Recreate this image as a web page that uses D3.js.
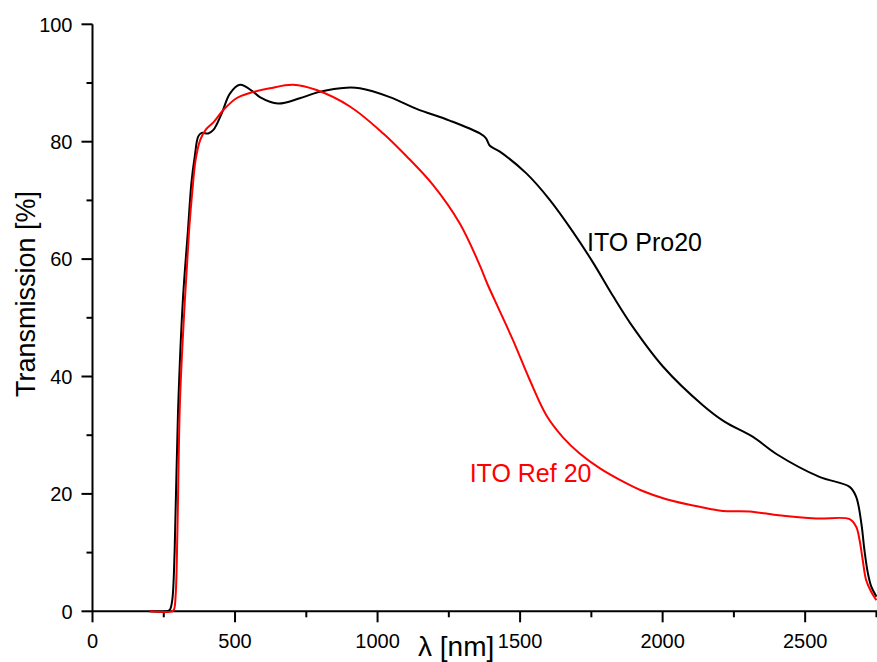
<!DOCTYPE html>
<html>
<head>
<meta charset="utf-8">
<script src="https://cdn.jsdelivr.net/npm/d3@7"></script>
<style>
  html, body { margin: 0; padding: 0; background: #fff; }
  svg { display: block; font-family: "Liberation Sans", Arial, sans-serif; }
</style>
</head>
<body>
<svg id="chart" width="877" height="662"></svg>
<script>
// Data (wavelength in nm, transmission in %)
const proWavelength = [200, 262, 272, 280, 288, 300, 317, 335, 347, 359, 371, 383, 406, 424, 453, 482, 517, 564, 587, 651, 727, 798, 891, 938, 1043, 1137, 1253, 1359, 1380, 1394, 1429, 1522, 1604, 1686, 1756, 1826, 1896, 2001, 2141, 2217, 2317, 2399, 2550, 2656, 2679, 2697, 2708, 2720, 2732, 2750];
const proTransmission = [0, 0, 0.3, 2, 10, 34, 53, 65, 73, 77.6, 80.9, 81.5, 81.4, 82.0, 84.8, 88.2, 89.7, 88.5, 87.6, 86.5, 87.4, 88.5, 89.2, 89.1, 87.6, 85.6, 83.6, 81.4, 80.6, 79.3, 78.3, 74.6, 70.1, 64.6, 59.4, 53.7, 48.4, 41.7, 35.1, 32.3, 29.7, 26.8, 22.9, 21.2, 19.5, 15.0, 10.4, 6.5, 4.2, 2.5];

const refWavelength = [200, 280, 286, 292, 298, 307, 324, 339, 350, 362, 378, 398, 424, 459, 505, 552, 622, 704, 786, 903, 1020, 1100, 1195, 1288, 1359, 1385, 1411, 1475, 1534, 1592, 1651, 1709, 1779, 1850, 1930, 2013, 2130, 2211, 2305, 2399, 2539, 2656, 2679, 2691, 2702, 2714, 2732, 2750];
const refTransmission = [0, 0, 0.3, 3, 14, 36, 53, 65, 71.5, 77, 80.3, 82.1, 83.3, 85.4, 87.4, 88.3, 89.1, 89.7, 88.8, 86.0, 81.4, 77.6, 72.6, 66.1, 58.9, 55.8, 53.0, 46.2, 39.4, 33.4, 29.6, 26.9, 24.4, 22.4, 20.5, 19.1, 17.8, 17.1, 17.0, 16.4, 15.8, 15.7, 14.4, 12.1, 8.7, 5.3, 3.3, 1.9];

const xTickValues = [0, 500, 1000, 1500, 2000, 2500];
const xMinorTicks = [250, 750, 1250, 1750, 2250, 2750];
const yTickValues = [0, 20, 40, 60, 80, 100];
const yMinorTicks = [10, 30, 50, 70, 90];

const seriesNames = ["ITO Pro20", "ITO Ref 20"];
const seriesColors = ["#000000", "#ff0000"];

const svg = d3.select("#chart");

const x = d3.scaleLinear().domain([0, 2752]).range([92.5, 877]);
const y = d3.scaleLinear().domain([0, 100]).range([611.3, 24.3]);

const axisColor = "#000";

// Y axis
const yAxis = svg.append("g").attr("transform", `translate(${x(0)},0)`);
yAxis.append("line")
  .attr("x1", 0).attr("x2", 0)
  .attr("y1", y(100)).attr("y2", y(0))
  .attr("stroke", axisColor).attr("stroke-width", 2);
yAxis.selectAll(".ymaj").data(yTickValues).enter().append("line")
  .attr("x1", -11).attr("x2", 0)
  .attr("y1", d => y(d)).attr("y2", d => y(d))
  .attr("stroke", axisColor).attr("stroke-width", 2);
yAxis.selectAll(".ymin").data(yMinorTicks).enter().append("line")
  .attr("x1", -6).attr("x2", 0)
  .attr("y1", d => y(d)).attr("y2", d => y(d))
  .attr("stroke", axisColor).attr("stroke-width", 2);
yAxis.selectAll(".ylab").data(yTickValues).enter().append("text")
  .attr("x", -20).attr("y", d => y(d))
  .attr("dy", "0.36em")
  .attr("text-anchor", "end")
  .attr("font-size", 20)
  .attr("fill", "#000")
  .text(d => d);

// X axis
const xAxis = svg.append("g").attr("transform", `translate(0,${y(0)})`);
xAxis.append("line")
  .attr("x1", x(0)).attr("x2", 877)
  .attr("y1", 0).attr("y2", 0)
  .attr("stroke", axisColor).attr("stroke-width", 2);
xAxis.selectAll(".xmaj").data(xTickValues).enter().append("line")
  .attr("x1", d => x(d)).attr("x2", d => x(d))
  .attr("y1", 0).attr("y2", 11)
  .attr("stroke", axisColor).attr("stroke-width", 2);
xAxis.selectAll(".xmin").data(xMinorTicks).enter().append("line")
  .attr("x1", d => x(d)).attr("x2", d => x(d))
  .attr("y1", 0).attr("y2", 6)
  .attr("stroke", axisColor).attr("stroke-width", 2);
xAxis.selectAll(".xlab").data(xTickValues).enter().append("text")
  .attr("x", d => x(d)).attr("y", 37)
  .attr("text-anchor", "middle")
  .attr("font-size", 20)
  .attr("fill", "#000")
  .text(d => d);

// Axis titles
svg.append("text")
  .attr("transform", "translate(35,294) rotate(-90)")
  .attr("text-anchor", "middle")
  .attr("font-size", 27)
  .attr("fill", "#000")
  .text("Transmission [%]");

svg.append("text")
  .attr("x", 418).attr("y", 656)
  .attr("font-size", 28)
  .attr("fill", "#000")
  .text("λ [nm]");

// Curves
const line = d3.line()
  .x(d => x(d[0]))
  .y(d => y(Math.max(0, d[1])))
  .curve(d3.curveCatmullRom.alpha(0.5));

const refData = refWavelength.map((w, i) => [w, refTransmission[i]]);
const proData = proWavelength.map((w, i) => [w, proTransmission[i]]);

svg.append("path")
  .datum(proData)
  .attr("fill", "none")
  .attr("stroke", seriesColors[0])
  .attr("stroke-width", 2)
  .attr("stroke-linejoin", "round")
  .attr("d", line);

svg.append("path")
  .datum(refData)
  .attr("fill", "none")
  .attr("stroke", seriesColors[1])
  .attr("stroke-width", 2)
  .attr("stroke-linejoin", "round")
  .attr("d", line);

// Annotations
svg.append("text")
  .attr("x", x(1735)).attr("y", y(61.3))
  .attr("font-size", 25)
  .attr("fill", seriesColors[0])
  .text(seriesNames[0]);

svg.append("text")
  .attr("x", x(1323)).attr("y", y(22.1))
  .attr("font-size", 25)
  .attr("fill", seriesColors[1])
  .text(seriesNames[1]);
</script>
</body>
</html>
